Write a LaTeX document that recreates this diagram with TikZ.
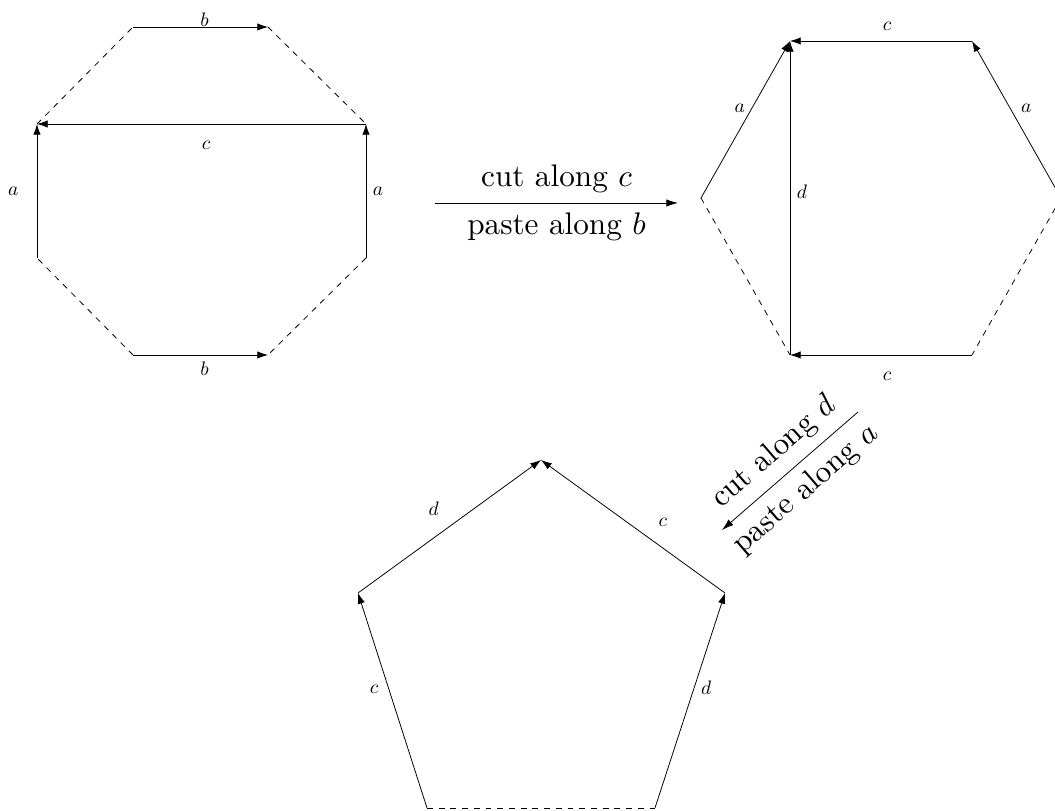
\documentclass[tikz,border=0pt]{standalone}
\usepackage{amsmath}
\usepackage{tikz}
\usetikzlibrary{arrows.meta}
\tikzset{
  cutEdge/.style={-{Latex[length=5.5pt,width=3.8pt]}},
  freeEdge/.style={dashed},
  edgeLabel/.style={font=\normalsize},
  moveArrow/.style={-{Latex[length=6pt,width=3.8pt]}},
  moveLabel/.style={scale=1.6, inner sep=3.1pt}
}

\begin{document}
\begin{tikzpicture}[x=0.018cm,y=0.018cm]
  \useasboundingbox (0,0) rectangle (1055,811);
  % octagon
  \foreach \n/\x/\y in {1/133/784,2/268/784,3/366/687,4/366/553,5/268/456,6/133/456,7/37/553,8/37/687}
    \coordinate (o\n) at (\x,\y);
  \draw[cutEdge] (o1) -- node[edgeLabel, pos=0.53, above, inner sep=0pt] (oB1) {$b$} (o2);
  \draw[cutEdge] (o6) -- node[edgeLabel, pos=0.53, below] (oB2) {$b$} (o5);
  \draw[cutEdge] (o3) -- node[edgeLabel, pos=0.486, below=5pt] (oC) {$c$} (o8);
  \draw[cutEdge] (o7) -- node[edgeLabel, midway, left=6pt] (oA1) {$a$} (o8);
  \draw[cutEdge] (o4) -- node[edgeLabel, midway, right] (oA2) {$a$} (o3);
  \draw[freeEdge] (o2) -- (o3) (o4) -- (o5) (o6) -- (o7) (o8) -- (o1);
  % hexagon
  \foreach \n/\x/\y in {1/790/770,2/972/770,3/1061/613,4/972/456,5/790/456,6/701/613}
    \coordinate (h\n) at (\x,\y);
  \draw[cutEdge] (h2) -- node[edgeLabel, pos=0.467, above=2pt] (hC1) {$c$} (h1);
  \draw[cutEdge] (h6) -- node[edgeLabel, pos=0.57, left] (hA1) {$a$} (h1);
  \draw[cutEdge] (h3) -- node[edgeLabel, pos=0.57, right=2pt] (hA2) {$a$} (h2);
  \draw[cutEdge] (h5) -- node[edgeLabel, pos=0.52, right] (hD) {$d$} (h1);
  \draw[cutEdge] (h4) -- node[edgeLabel, pos=0.467, below=5pt] (hC2) {$c$} (h5);
  \draw[freeEdge] (h6) -- (h5) (h3) -- (h4);
  % pentagon
  \foreach \n/\x/\y in {1/541/351,2/725/218,3/655/3,4/427/3,5/358/218}
    \coordinate (p\n) at (\x,\y);
  \draw[cutEdge] (p5) -- node[edgeLabel, pos=0.5, above left=2pt] (pD1) {$d$} (p1);
  \draw[cutEdge] (p2) -- node[edgeLabel, pos=0.42, above right=2pt] (pC1) {$c$} (p1);
  \draw[cutEdge] (p4) -- node[edgeLabel, pos=0.55, left=2pt] (pC2) {$c$} (p5);
  \draw[cutEdge] (p3) -- node[edgeLabel, pos=0.56, right] (pD2) {$d$} (p2);
  \draw[freeEdge] (p4) -- (p3);
  % moves
  \coordinate (m1) at (435,608);
  \coordinate (m2) at (678,608);
  \draw[moveArrow] (m1) -- node[moveLabel, above] (cutC) {cut along $c$}
    node[moveLabel, below] (pasteB) {paste along $b$} (m2);
  \coordinate (m3) at (858,399);
  \coordinate (m4) at (722,281);
  \draw[moveArrow] (m3) -- node[moveLabel, sloped, above] (cutD) {cut along $d$}
    node[moveLabel, sloped, below] (pasteA) {paste along $a$} (m4);
\end{tikzpicture}
\end{document}
